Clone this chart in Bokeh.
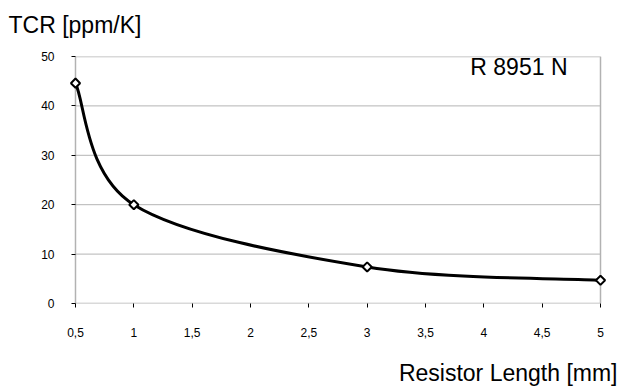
import math
from bokeh.plotting import figure
from bokeh.models import (Range1d, FixedTicker, Label, ColumnDataSource, BoxAnnotation,
                          LinearAxis, Title)
from bokeh.embed import file_html
from bokeh.resources import INLINE

# data
lengths_mm = [0.5, 1.0, 3.0, 5.0]
tcr_ppm = [44.6, 20.0, 7.4, 4.7]
x_ticks = [0.5, 1.0, 1.5, 2.0, 2.5, 3.0, 3.5, 4.0, 4.5, 5.0]
x_tick_labels = ["0,5", "1", "1,5", "2", "2,5", "3", "3,5", "4", "4,5", "5"]
y_ticks = [0, 10, 20, 30, 40, 50]
y_label = "TCR [ppm/K]"
x_label = "Resistor Length [mm]"
series_name = "R 8951 N"

FONT = "Liberation Sans"
X_MIN, X_MAX = x_ticks[0], x_ticks[-1]
Y_MIN, Y_MAX = y_ticks[0], y_ticks[-1]
PAD = 0.0514  # a little room so the edge markers are not clipped

p = figure(width=620, height=392, output_backend="svg", toolbar_location=None,
           x_range=Range1d(X_MIN - PAD, X_MAX + PAD), y_range=Range1d(Y_MIN, Y_MAX),
           min_border_left=69, min_border_right=14, min_border_top=56, min_border_bottom=89)

p.outline_line_color = None
p.background_fill_color = "white"
p.border_fill_color = "white"
p.xgrid.visible = False
p.ygrid.visible = False

# horizontal grid lines between the plot edges
inner = [t for t in y_ticks if Y_MIN < t < Y_MAX]
p.segment(x0=[X_MIN] * len(inner), x1=[X_MAX] * len(inner), y0=inner, y1=inner,
          line_color="#b4b4b4", line_width=1)

# plot box
p.add_layout(BoxAnnotation(left=X_MIN, right=X_MAX, bottom=Y_MIN, top=Y_MAX,
                           fill_color=None, line_color="black", line_width=1.5,
                           level="underlay"))

p.xaxis.ticker = FixedTicker(ticks=x_ticks)
p.xaxis.major_label_overrides = {t: l for t, l in zip(x_ticks, x_tick_labels)}
p.yaxis.ticker = FixedTicker(ticks=y_ticks)
for ax in (p.xaxis, p.yaxis):
    ax.axis_line_color = None
    ax.major_tick_line_color = "black"
    ax.major_tick_line_width = 1
    ax.minor_tick_line_color = None
    ax.major_label_text_font = FONT
    ax.major_label_text_font_size = "12px"
    ax.major_label_text_color = "black"
p.xaxis.major_tick_in = 0
p.xaxis.major_tick_out = 4
p.xaxis.major_label_standoff = 20
p.yaxis.major_tick_in = 6
p.yaxis.major_tick_out = -2
p.yaxis.major_label_standoff = 15


def spacer(px):
    # an invisible axis (one hidden tick) used only to leave room before a title
    mid = x_ticks[len(x_ticks) // 2]
    return LinearAxis(ticker=FixedTicker(ticks=[mid]), major_label_overrides={mid: ""},
                      axis_line_color=None, major_tick_line_color=None,
                      minor_tick_line_color=None, major_tick_in=0, major_tick_out=px,
                      major_label_standoff=0, major_label_text_font_size="1px",
                      major_label_text_color=None)


p.add_layout(spacer(17), "above")
p.add_layout(Title(text=y_label, align="left", vertical_align="top", offset=-61,
                   text_font=FONT, text_font_size="23px", text_font_style="normal",
                   text_color="black", standoff=0), "above")
p.add_layout(spacer(18), "below")
p.add_layout(Title(text=x_label, align="right", vertical_align="bottom", offset=-11,
                   text_font=FONT, text_font_size="23px", text_font_style="normal",
                   text_color="black", standoff=0), "below")

# smoothed curve (Excel-style Bezier through the data points)
n = len(lengths_mm)
x0, y0, x1, y1, cx0, cy0, cx1, cy1 = [], [], [], [], [], [], [], []
for i in range(n - 1):
    pxm = lengths_mm[max(i - 1, 0)]; pym = tcr_ppm[max(i - 1, 0)]
    pxa = lengths_mm[i]; pya = tcr_ppm[i]
    pxb = lengths_mm[i + 1]; pyb = tcr_ppm[i + 1]
    pxp = lengths_mm[min(i + 2, n - 1)]; pyp = tcr_ppm[min(i + 2, n - 1)]
    x0.append(pxa); y0.append(pya); x1.append(pxb); y1.append(pyb)
    cx0.append(pxa + (pxb - pxm) / 6); cy0.append(pya + (pyb - pym) / 6)
    cx1.append(pxb - (pxp - pxa) / 6); cy1.append(pyb - (pyp - pya) / 6)
src = ColumnDataSource(dict(x0=x0, y0=y0, x1=x1, y1=y1, cx0=cx0, cy0=cy0, cx1=cx1, cy1=cy1))
p.bezier(x0="x0", y0="y0", x1="x1", y1="y1", cx0="cx0", cy0="cy0", cx1="cx1", cy1="cy1",
         source=src, line_color="black", line_width=3)

p.scatter(lengths_mm, tcr_ppm, marker="square", angle=math.pi / 4, size=6.5,
          fill_color="white", line_color="black", line_width=2)

p.add_layout(Label(x=4.717, y=47.8, text=series_name, text_font=FONT, text_font_size="23px",
                   text_align="right", text_baseline="middle", text_color="black"))

open("out.html", "w").write(file_html(p, INLINE))
